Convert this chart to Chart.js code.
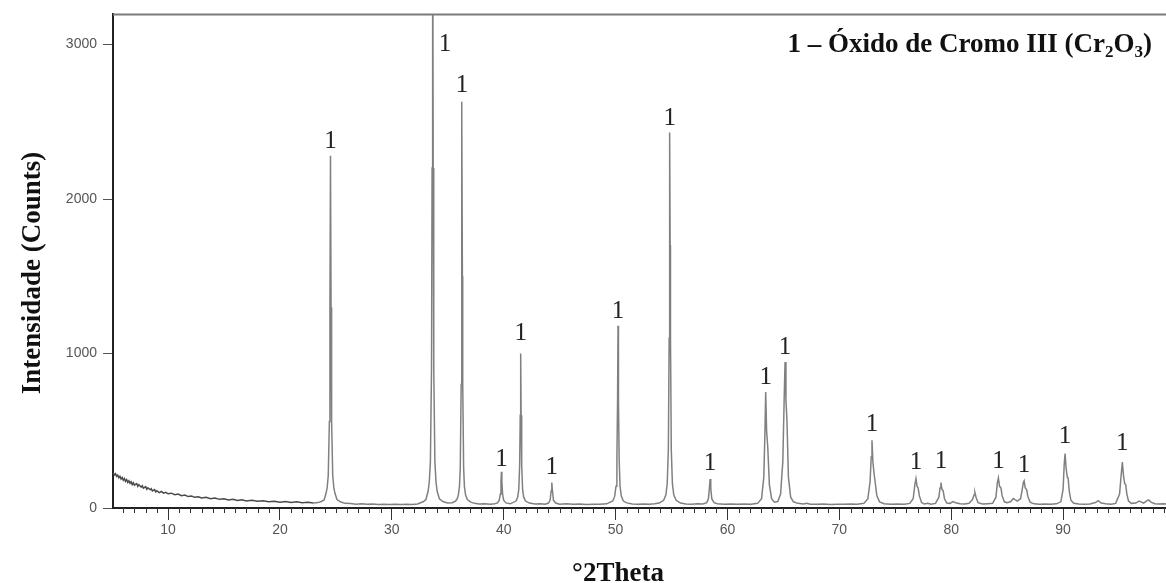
<!DOCTYPE html>
<html>
<head>
<meta charset="utf-8">
<script src="https://cdn.jsdelivr.net/npm/chart.js@4.4.1/dist/chart.umd.min.js"></script>
<style>
    body { margin: 0; background: #fff; }
    canvas { display: block; }
</style>
</head>
<body>
<canvas id="GraficoDRX" width="1166" height="583"></canvas>
<script>
var doisTheta = [
    5.1, 5.2, 5.3, 5.4, 5.5, 5.6, 5.7, 5.8, 5.9, 6.0, 6.1, 6.2, 6.3, 6.4, 6.5, 6.6, 6.7, 6.8, 6.9, 7.0,
    7.2, 7.3, 7.4, 7.6, 7.7, 7.8, 8.0, 8.1, 8.2, 8.4, 8.5, 8.6, 8.8, 8.9, 9.0, 9.2, 9.4, 9.6, 9.8, 10.0,
    10.3, 10.6, 10.9, 11.2, 11.5, 11.8, 12.1, 12.4, 12.7, 13.0, 13.4, 13.8, 14.2, 14.6, 15.0, 15.4, 15.8, 16.2, 16.6, 17.0,
    17.5, 18.0, 18.5, 19.0, 19.5, 20.0, 20.5, 21.0, 21.5, 22.0, 22.5, 23.0, 23.4,
    23.7, 23.95, 24.12, 24.22, 24.32, 24.42, 24.47, 24.52, 24.57, 24.62, 24.72, 24.82, 24.92, 25.1, 25.4, 25.8,
    26.3, 26.8, 27.3, 27.8, 28.3, 28.8, 29.3, 29.8, 30.3, 30.8, 31.3, 31.8, 32.3,
    32.8, 33.05, 33.25, 33.35, 33.45, 33.55, 33.6, 33.65, 33.7, 33.75, 33.85, 33.95, 34.05, 34.25, 34.6, 35.0, 35.4, 35.7,
    35.85, 35.95, 36.05, 36.12, 36.2, 36.23, 36.27, 36.31, 36.34, 36.42, 36.49, 36.59, 36.75, 37.05, 37.4, 37.8, 38.3, 38.8, 39.2,
    39.45, 39.6, 39.7, 39.76, 39.8, 39.84, 39.9, 40.0, 40.2, 40.6,
    41.1, 41.25, 41.35, 41.43, 41.48, 41.52, 41.56, 41.61, 41.69, 41.79, 41.95, 42.3, 42.8, 43.3, 43.7,
    44.0, 44.15, 44.24, 44.3, 44.36, 44.45, 44.65, 45.0, 45.6, 46.2, 46.8, 47.4, 48.0, 48.6, 49.2,
    49.75, 49.92, 50.04, 50.12, 50.18, 50.22, 50.26, 50.32, 50.4, 50.52, 50.7, 51.0, 51.5, 52.0, 52.5, 53.0, 53.5, 53.9,
    54.3, 54.5, 54.62, 54.72, 54.79, 54.82, 54.85, 54.88, 54.91, 54.98, 55.08, 55.2, 55.42, 55.8, 56.3, 56.8, 57.3, 57.8,
    58.15, 58.3, 58.39, 58.45, 58.51, 58.6, 58.8, 59.1, 59.7, 60.3, 60.9, 61.5, 62.1, 62.7, 63.05,
    63.25, 63.35, 63.42, 63.5, 63.6, 63.75, 63.95, 64.2, 64.5, 64.75,
    64.95, 65.07, 65.15, 65.23, 65.32, 65.45, 65.65, 65.9, 66.3, 66.8, 67.1, 67.4, 68.0, 68.6, 69.2, 69.8, 70.4, 71.0, 71.6, 72.2, 72.55,
    72.75, 72.85, 72.92, 73.0, 73.1, 73.2, 73.35, 73.6, 74.0, 74.6, 75.2, 75.8, 76.3, 76.6,
    76.75, 76.85, 76.95, 77.05, 77.15, 77.35, 77.6, 77.9, 78.2, 78.6, 78.9,
    79.0, 79.08, 79.17, 79.28, 79.4, 79.6, 79.9, 80.15, 80.4, 80.8, 81.2, 81.6, 81.9,
    82.05, 82.12, 82.22, 82.4, 82.8, 83.3, 83.7, 84.0,
    84.12, 84.22, 84.32, 84.45, 84.55, 84.75, 85.0, 85.3, 85.55, 85.7, 85.9, 86.2, 86.35,
    86.45, 86.52, 86.62, 86.75, 86.85, 87.05, 87.4, 87.9, 88.4, 88.9, 89.4, 89.8, 90.0,
    90.1, 90.18, 90.27, 90.37, 90.45, 90.55, 90.7, 90.95, 91.4, 91.9, 92.4, 92.9, 93.15, 93.4, 93.8, 94.3, 94.7, 95.05,
    95.2, 95.3, 95.4, 95.5, 95.6, 95.7, 95.85, 96.1, 96.5, 96.8, 96.95, 97.2, 97.5, 97.65, 97.85, 98.2, 98.6, 99.0, 99.3
];
var contagens = [
    228, 214, 222, 205, 213, 196, 206, 188, 197, 180, 190, 172, 184, 166, 176, 160, 170, 152, 163, 148,
    158, 140, 151, 135, 144, 128, 138, 121, 131, 118, 125, 110, 119, 104, 112, 100, 107, 96, 101, 92,
    96, 86, 90, 80, 84, 74, 78, 69, 73, 65, 69, 60, 64, 56, 60, 52, 56, 49, 53, 46,
    50, 43, 47, 41, 44, 38, 42, 36, 40, 34, 37, 33, 35,
    42, 52, 95, 130, 210, 560, 1300, 2280, 1300, 560, 210, 130, 95, 55, 40, 30,
    29, 25, 27, 24, 26, 23, 25, 23, 25, 22, 24, 23, 26,
    40, 55, 110, 170, 300, 900, 2200, 4200, 2200, 900, 300, 170, 110, 60, 40, 32, 34, 45,
    60, 85, 140, 260, 800, 1500, 2630, 1500, 800, 260, 140, 85, 55, 38, 30, 26, 28, 25, 28,
    33, 50, 90, 170, 235, 170, 90, 50, 33, 27,
    45, 70, 120, 280, 600, 1000, 600, 280, 120, 70, 45, 32, 26, 27, 25,
    32, 50, 110, 165, 110, 50, 32, 25, 27, 24, 26, 23, 25, 24, 27,
    45, 75, 140, 320, 700, 1180, 700, 320, 140, 75, 45, 33, 26, 24, 26, 24, 27, 32,
    50, 85, 160, 380, 1100, 1700, 2430, 1700, 1100, 380, 160, 85, 50, 32, 26, 25, 27, 26,
    35, 60, 130, 187, 130, 60, 35, 27, 24, 26, 24, 26, 25, 30, 60,
    200, 480, 750, 500, 400, 150, 60, 38, 42, 90,
    300, 700, 945, 700, 566, 200, 70, 40, 30, 26, 30, 25, 24, 26, 23, 25, 24, 26, 25, 30, 60,
    170, 330, 438, 300, 228, 170, 80, 40, 28, 25, 26, 24, 30, 60,
    150, 190, 140, 130, 80, 35, 26, 30, 25, 30, 70,
    130, 165, 120, 112, 60, 32, 30, 42, 34, 28, 26, 30, 55,
    85, 100, 70, 35, 26, 28, 30, 70,
    160, 195, 140, 130, 80, 40, 34, 40, 62, 55, 45, 60, 120,
    165, 176, 130, 118, 75, 38, 27, 24, 26, 25, 27, 40, 120,
    280, 352, 260, 200, 195, 110, 50, 30, 26, 24, 26, 35, 48, 32, 28, 25, 30, 90,
    220, 298, 210, 160, 150, 90, 45, 30, 32, 45, 40, 32, 48, 52, 38, 28, 26, 27, 25
];

// picos identificados (1 = Cr2O3)
var picosTheta = [24.52, 34.75, 36.27, 39.8, 41.52, 44.3, 50.22, 54.85, 58.45, 63.42, 65.15, 72.92, 76.85, 79.08, 84.22, 86.5, 90.18, 95.3];
var picosRotulo = [2370, 3000, 2737, 316, 1133, 264, 1275, 2524, 290, 845, 1037, 541, 298, 303, 303, 277, 464, 419];
var picosFase = ['1', '1', '1', '1', '1', '1', '1', '1', '1', '1', '1', '1', '1', '1', '1', '1', '1', '1'];

var ticksX = [10, 20, 30, 40, 50, 60, 70, 80, 90];
var ticksY = [0, 1000, 2000, 3000];

var pontos = doisTheta.map(function (t, i) { return { x: t, y: contagens[i] }; });

var serif = '"Liberation Serif", "Times New Roman", serif';

var textos = {
    id: 'textos',
    afterDraw: function (chart) {
        var ctx = chart.ctx;
        var area = chart.chartArea;
        var sx = chart.scales.x;
        var sy = chart.scales.y;
        ctx.save();

        // borda superior
        ctx.strokeStyle = '#7a7a7a';
        ctx.lineWidth = 2;
        ctx.beginPath();
        ctx.moveTo(area.left, area.top);
        ctx.lineTo(area.right, area.top);
        ctx.stroke();

        // ticks menores a cada 1 grau
        ctx.strokeStyle = '#333';
        ctx.lineWidth = 1;
        ctx.beginPath();
        for (var g = 6; g <= 99; g++) {
            if (g % 10 === 0) continue;
            var px = Math.round(sx.getPixelForValue(g)) + 0.5;
            ctx.moveTo(px, area.bottom);
            ctx.lineTo(px, area.bottom + 5);
        }
        ctx.stroke();

        // rotulos dos picos
        ctx.fillStyle = '#222';
        ctx.font = '25px ' + serif;
        ctx.textAlign = 'center';
        ctx.textBaseline = 'middle';
        picosTheta.forEach(function (t, i) {
            ctx.fillText(picosFase[i], sx.getPixelForValue(t), sy.getPixelForValue(picosRotulo[i]));
        });

        // legenda
        ctx.textBaseline = 'alphabetic';
        ctx.textAlign = 'left';
        var partes = [
            ['1 \u2013 \u00D3xido de Cromo III (Cr', 27, 0],
            ['2', 17, 5],
            ['O', 27, 0],
            ['3', 17, 5],
            [')', 27, 0]
        ];
        var larg = 0;
        partes.forEach(function (p) {
            ctx.font = 'bold ' + p[1] + 'px ' + serif;
            larg += ctx.measureText(p[0]).width;
        });
        var xl = 1152 - larg;
        ctx.fillStyle = '#111';
        partes.forEach(function (p) {
            ctx.font = 'bold ' + p[1] + 'px ' + serif;
            ctx.fillText(p[0], xl, 52 + p[2]);
            xl += ctx.measureText(p[0]).width;
        });

        // titulos dos eixos
        ctx.font = 'bold 27px ' + serif;
        ctx.textAlign = 'center';
        ctx.fillText('\u00B02Theta', 618, 581);
        ctx.translate(40, 273);
        ctx.rotate(-Math.PI / 2);
        ctx.fillText('Intensidade (Counts)', 0, 0);
        ctx.restore();
    }
};

var ctx = document.getElementById('GraficoDRX').getContext('2d');

var grafico = new Chart(ctx, {
    type: 'line',
    data: {
        datasets: [
            {
                label: 'Cr2O3',
                data: pontos,
                borderColor: '#808080',
                borderWidth: 1.5,
                pointRadius: 0,
                tension: 0,
                fill: false,
                segment: {
                    borderColor: function (c) { return c.p0.parsed.x < 23 ? '#4a4a4a' : undefined; }
                }
            }
        ]
    },
    options: {
        responsive: false,
        animation: false,
        layout: { padding: { top: 12, right: 0, left: 0, bottom: 0 } },
        plugins: {
            legend: { display: false },
            tooltip: { enabled: false }
        },
        scales: {
            x: {
                type: 'linear',
                min: 5.08,
                max: 99.2,
                afterBuildTicks: function (s) { s.ticks = ticksX.map(function (v) { return { value: v }; }); },
                afterFit: function (s) { s.height = 75; },
                grid: { drawOnChartArea: false, drawTicks: true, tickLength: 12, tickColor: '#333' },
                border: { display: true, color: '#222', width: 2 },
                ticks: {
                    color: '#555',
                    font: { family: '"Liberation Sans", Arial, sans-serif', size: 14 },
                    padding: 2,
                    maxRotation: 0,
                    autoSkip: false,
                    callback: function (v) { return String(v); }
                }
            },
            y: {
                min: 0,
                max: 3195,
                afterBuildTicks: function (s) { s.ticks = ticksY.map(function (v) { return { value: v }; }); },
                afterFit: function (s) { s.width = 113; },
                grid: { drawOnChartArea: false, drawTicks: true, tickLength: 10, tickColor: '#555' },
                border: { display: true, color: '#222', width: 2 },
                ticks: {
                    color: '#555',
                    font: { family: '"Liberation Sans", Arial, sans-serif', size: 14 },
                    padding: 6,
                    callback: function (v) { return String(v); }
                }
            }
        }
    },
    plugins: [textos]
});
</script>
</body>
</html>
